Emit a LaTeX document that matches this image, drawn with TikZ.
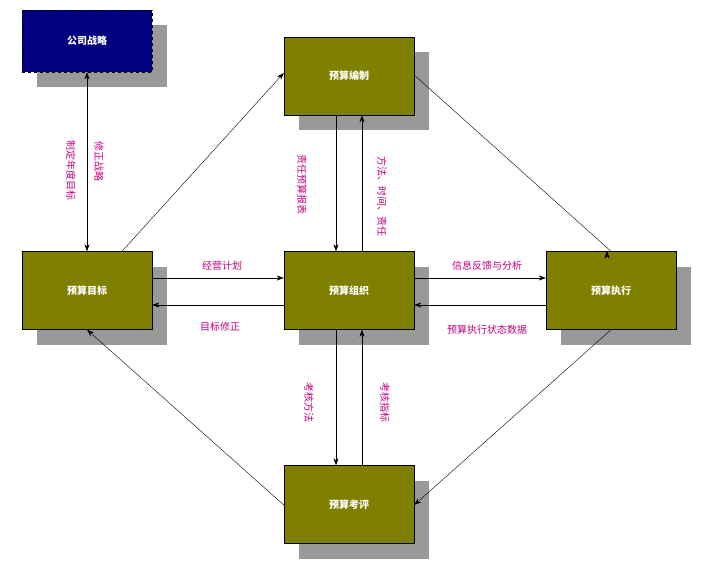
\documentclass[tikz,border=0pt]{standalone}
\usepackage{fontspec}
\newfontfamily\cjk{Noto Sans CJK SC}
\usetikzlibrary{arrows.meta}
\definecolor{olivebox}{HTML}{808000}
\definecolor{navybox}{HTML}{000080}
\definecolor{lbl}{HTML}{C0007F}
\tikzset{
  box/.style={draw=black,fill=olivebox,minimum width=130pt,minimum height=78pt,inner sep=0pt,text=white,font=\cjk\bfseries\fontsize{10}{12}\selectfont},
  shadowbox/.style={fill=black!40,minimum width=130pt,minimum height=78pt,inner sep=0pt},
  arr/.style={-{Stealth[length=7pt,width=5pt]},thin},
  lab/.style={text=lbl,font=\cjk\fontsize{10}{12}\selectfont,inner sep=1pt},
  vlab/.style={lab,rotate=-90}
}
\begin{document}
\begin{tikzpicture}[x=1pt,y=-1pt]
\useasboundingbox (0,0) rectangle (711,573);
% shadows
\node[shadowbox,minimum height=62pt] at (102,56) {};
\foreach \p in {(364,91),(102,306),(364,306),(626,306),(364,520)} \node[shadowbox] at \p {};
% boxes
\node[box,fill=navybox,dashed,minimum height=62pt] (zl) at (87,41) {公司战略};
\node[box] (bz) at (349,76) {预算编制};
\node[box] (mb) at (87,290.5) {预算目标};
\node[box] (zz) at (349,290.5) {预算组织};
\node[box] (zx) at (611,290.5) {预算执行};
\node[box] (kp) at (349,504.5) {预算考评};
% connectors
\draw[arr,{Stealth[length=7pt,width=5pt]}-{Stealth[length=7pt,width=5pt]}] (zl.south) -- (mb.north);
\draw[arr] (mb.north)++(35,0) coordinate (a1) -- (bz.west|-0,73);
\draw[arr] (bz.east|-0,75) -- (zx.north)++(-4,0);
\draw[arr] (zx.north)++(-4,0) coordinate (a2);
\draw[arr] (zx.south)++(0,0) coordinate (a3) -- (kp.east|-0,505);
\draw[arr] (kp.west|-0,505) -- (mb.south);
\draw[arr] (mb.east|-0,278) -- (zz.west|-0,278);
\draw[arr] (zz.west|-0,305) -- (mb.east|-0,305);
\draw[arr] (zz.east|-0,278) -- (zx.west|-0,278);
\draw[arr] (zx.west|-0,305) -- (zz.east|-0,305);
\draw[arr] (bz.south-|336,0) -- (zz.north-|336,0);
\draw[arr] (zz.north-|362,0) -- (bz.south-|362,0);
\draw[arr] (zz.south-|336,0) -- (kp.north-|336,0);
\draw[arr] (kp.north-|362,0) -- (zz.south-|362,0);
% labels
\node[vlab] at (99,161) {修正战略};
\node[vlab] at (71,170) {制定年度目标};
\node[lab] at (222,266) {经营计划};
\node[lab] at (220,327) {目标修正};
\node[lab] at (487,266) {信息反馈与分析};
\node[lab] at (487,330) {预算执行状态数据};
\node[vlab] at (302,184) {责任预算报表};
\node[vlab] at (382,196) {方法、时间、责任};
\node[vlab] at (309,402) {考核方法};
\node[vlab] at (385,402) {考核指标};
\end{tikzpicture}
\end{document}
